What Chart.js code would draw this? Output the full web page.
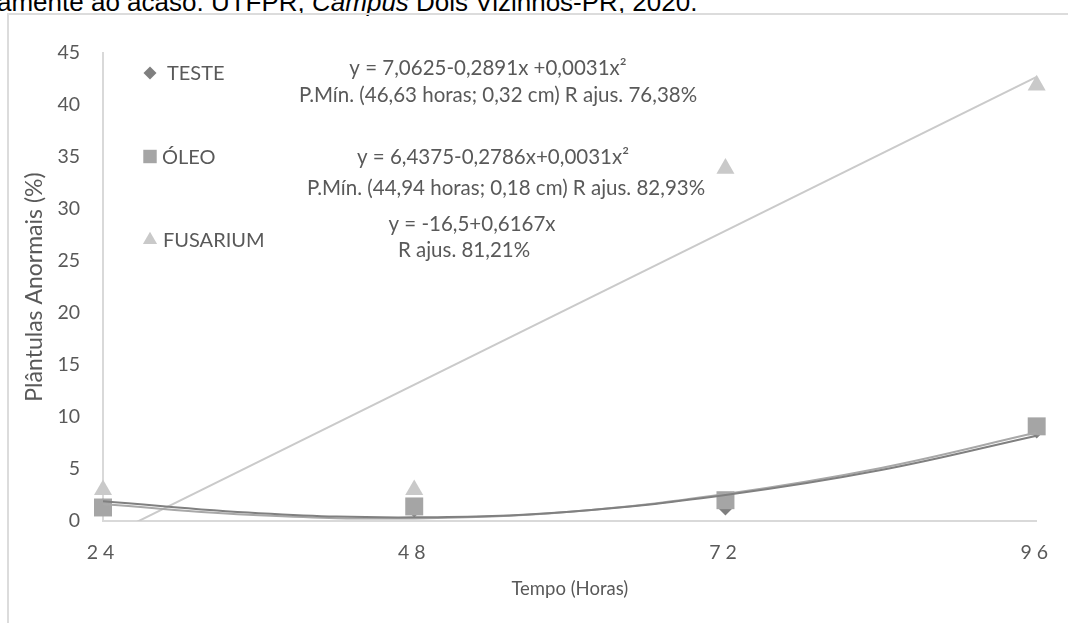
<!DOCTYPE html>
<html lang="pt">
<head>
<meta charset="utf-8">
<script src="https://cdn.jsdelivr.net/npm/chart.js@4/dist/chart.umd.min.js"></script>
<style>
  html, body { margin: 0; padding: 0; background: #fff; overflow: hidden; }
  body { width: 1068px; height: 623px; position: relative; }
  .caption {
    position: absolute; left: -3px; top: -13px;
    font: 26px "Liberation Sans", Arial, sans-serif; line-height: 30px;
    color: #000; white-space: nowrap;
  }
  .frame {
    position: absolute; left: 7px; top: 13px;
    width: 1200px; height: 800px;
    border: 2px solid #dcdcdc;
  }
  .chart-box { position: absolute; left: 0; top: 0; width: 1068px; height: 623px; }
</style>
</head>
<body>
<div class="caption">amente ao acaso. UTFPR, <i>Campus</i> Dois Vizinhos-PR, 2020.</div>
<div class="frame"></div>
<div class="chart-box"><canvas id="chart"></canvas></div>
<script>
const hours = [24, 48, 72, 96];
const testeValues = [1.5, 1.0, 1.2, 8.6];
const oleoValues = [1.3, 1.4, 2.0, 9.1];
const fusariumValues = [3.0, 3.0, 33.9, 41.9];

// linhas de tendência
const trendHours = [24, 36, 48, 60, 72, 84, 96];
const testeTrend = [1.9, 0.75, 0.35, 0.9, 2.5, 4.9, 8.2];
const oleoTrend = [1.6, 0.55, 0.25, 0.9, 2.6, 5.1, 8.5];
const fusariumTrendHours = [24, 96];
const fusariumTrend = [-1.7, 42.7];

const equationLines = [
  "y = 7,0625-0,2891x +0,0031x²",
  "P.Mín. (46,63 horas; 0,32 cm) R ajus. 76,38%",
  "y = 6,4375-0,2786x+0,0031x²",
  "P.Mín. (44,94 horas; 0,18 cm) R ajus. 82,93%",
  "y = -16,5+0,6167x",
  "R ajus. 81,21%",
];
// posição do centro de cada linha, a partir do canto da área do gráfico
const equationPos = [
  [385, 15], [395, 42],
  [390, 104], [403, 135],
  [369, 171], [361, 197],
];

const FONT = "Lato, 'Open Sans', sans-serif";
const TEXT = "#595959";
const AXIS = "#d9d9d9";

const toPoints = (xs, ys) => xs.map((x, i) => ({ x, y: ys[i] }));

const notesPlugin = {
  id: "notes",
  afterDatasetsDraw(chart) {
    const { ctx, chartArea } = chart;
    ctx.save();
    ctx.textBaseline = "middle";

    // legenda
    ctx.font = `20px ${FONT}`;
    chart.data.datasets
      .filter((ds) => ds.legend)
      .forEach((ds, i) => {
        const x = chartArea.left + 47;
        const y = chartArea.top + 20 + i * 83.5;
        ctx.fillStyle = ds.backgroundColor;
        Chart.helpers.drawPoint(
          ctx,
          { pointStyle: ds.pointStyle, radius: ds.legend.radius, rotation: 0, borderWidth: 0 },
          x,
          y,
        );
        ctx.fillStyle = TEXT;
        ctx.textAlign = "left";
        ctx.fillText(ds.label, x + ds.legend.gap, y + 1);
      });

    // equações
    ctx.font = `20.5px ${FONT}`;
    ctx.textAlign = "center";
    ctx.fillStyle = TEXT;
    equationLines.forEach((line, i) => {
      const [dx, dy] = equationPos[i];
      ctx.fillText(line, chartArea.left + dx, chartArea.top + dy);
    });
    ctx.restore();

    // rótulos do eixo x são espaçados
    ctx.letterSpacing = "5px";
  },
  afterDraw(chart) {
    chart.ctx.letterSpacing = "0px";
  },
};

const ctx = document.getElementById("chart").getContext("2d");

new Chart(ctx, {
  type: "scatter",
  data: {
    datasets: [
      {
        type: "line",
        label: "Tendência TESTE",
        data: toPoints(trendHours, testeTrend),
        borderColor: "#808080",
        borderWidth: 2,
        pointRadius: 0,
        tension: 0.4,
        fill: false,
        order: 0,
      },
      {
        type: "line",
        label: "Tendência ÓLEO",
        data: toPoints(trendHours, oleoTrend),
        borderColor: "#a8a8a8",
        borderWidth: 2,
        pointRadius: 0,
        tension: 0.4,
        fill: false,
        order: 0,
      },
      {
        type: "line",
        label: "Tendência FUSARIUM",
        data: toPoints(fusariumTrendHours, fusariumTrend),
        borderColor: "#cacaca",
        borderWidth: 2,
        pointRadius: 0,
        tension: 0,
        fill: false,
        order: 0,
        clip: { left: 20, right: 20, top: 20, bottom: 0 },
      },
      {
        label: "TESTE",
        data: toPoints(hours, testeValues),
        pointStyle: "rectRot",
        pointRadius: 7,
        pointBorderWidth: 0,
        backgroundColor: "#7f7f7f",
        borderColor: "#7f7f7f",
        order: 3,
        clip: false,
        legend: { radius: 6.5, gap: 17 },
      },
      {
        label: "ÓLEO",
        data: toPoints(hours, oleoValues),
        pointStyle: "rect",
        pointRadius: 12.7,
        pointBorderWidth: 0,
        backgroundColor: "#a5a5a5",
        borderColor: "#a5a5a5",
        order: 1,
        clip: false,
        legend: { radius: 9.5, gap: 12 },
      },
      {
        label: "FUSARIUM",
        data: toPoints(hours, fusariumValues),
        pointStyle: "triangle",
        pointRadius: 10.4,
        pointBorderWidth: 0,
        backgroundColor: "#c9c9c9",
        borderColor: "#c9c9c9",
        order: 2,
        clip: false,
        legend: { radius: 8.2, gap: 13 },
      },
    ],
  },
  options: {
    responsive: true,
    maintainAspectRatio: false,
    animation: false,
    layout: { padding: { left: 15, right: 30, top: 53, bottom: 0 } },
    scales: {
      x: {
        type: "linear",
        min: 24,
        max: 96,
        ticks: {
          stepSize: 24,
          padding: 20,
          color: TEXT,
          font: { family: FONT, size: 19.5 },
          z: 1,
        },
        grid: { display: false, drawTicks: false },
        border: { color: AXIS, width: 2 },
        title: {
          display: true,
          text: "Tempo (Horas)",
          color: TEXT,
          font: { family: FONT, size: 18.5 },
          padding: { top: 0, bottom: 23 },
        },
        afterFit(scale) {
          scale.height = 102;
        },
      },
      y: {
        min: 0,
        max: 45,
        ticks: {
          stepSize: 5,
          padding: 23,
          color: TEXT,
          font: { family: FONT, size: 19.5 },
        },
        grid: { display: false, drawTicks: false },
        border: { color: AXIS, width: 2 },
        title: {
          display: true,
          text: "Plântulas Anormais (%)",
          color: TEXT,
          font: { family: FONT, size: 23 },
          padding: { top: 6, bottom: 0 },
        },
        afterFit(scale) {
          scale.width = 88;
        },
      },
    },
    plugins: {
      legend: { display: false },
      tooltip: { enabled: false },
    },
  },
  plugins: [notesPlugin],
});
</script>
</body>
</html>
